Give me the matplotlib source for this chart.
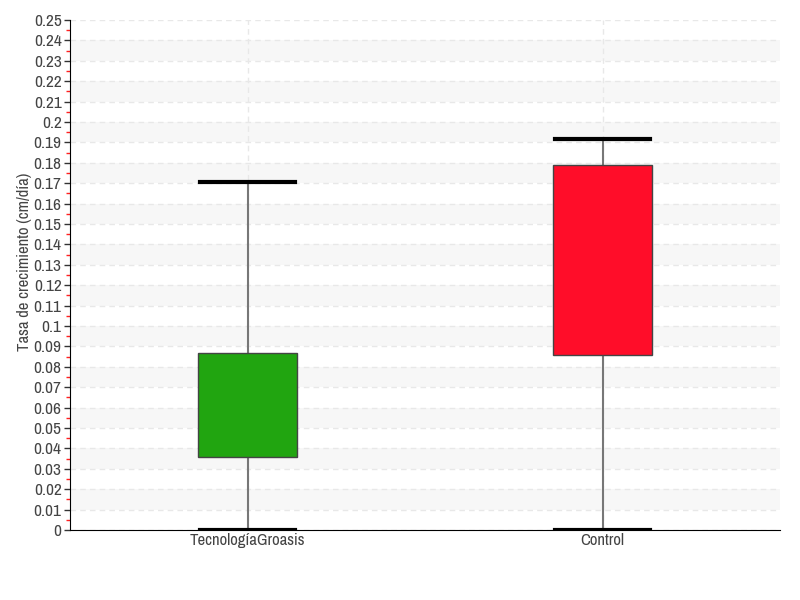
import matplotlib
matplotlib.use("Agg")
import matplotlib.pyplot as plt
from matplotlib.ticker import MultipleLocator, FuncFormatter
from matplotlib import font_manager

categories = ["TecnologíaGroasis", "Control"]
mins = [0.0, 0.0]
q1s = [0.036, 0.0858]
medians = [0.049, 0.1422]
q3s = [0.0868, 0.179]
maxs = [0.1706, 0.1917]
colors = ["#21a510", "#ff0d29"]

narrow = None
for f in font_manager.fontManager.ttflist:
    if "Narrow" in f.name or "Condensed" in f.name:
        narrow = f.name
        break
if narrow:
    plt.rcParams["font.family"] = [narrow, "DejaVu Sans"]
else:
    plt.rcParams["font.family"] = ["DejaVu Sans"]
    plt.rcParams["font.stretch"] = "condensed"

fig = plt.figure(figsize=(8, 6), dpi=100)
ax = fig.add_axes([70/800, 70/600, 710/800, 510/600])

ymax = 0.25
for k in range(1, 25, 2):
    ax.axhspan(k*0.01, (k+1)*0.01, color="#f7f7f7", zorder=0, lw=0)
for k in range(0, 26):
    ax.axhline(k*0.01, color="#e8e8e8", ls=(0, (4, 3)), lw=1, zorder=0.5)
for i in range(len(categories)):
    ax.axvline(i, color="#e8e8e8", ls=(0, (4, 3)), lw=1, zorder=0.5)

stats = []
for i, c in enumerate(categories):
    stats.append(dict(label=c, whislo=mins[i], q1=q1s[i], med=medians[i], q3=q3s[i], whishi=maxs[i]))
bp = ax.bxp(stats, positions=range(len(categories)), widths=0.28, patch_artist=True,
            showfliers=False, manage_ticks=False,
            boxprops=dict(edgecolor="#444444", linewidth=1),
            medianprops=dict(color="#222222", linewidth=1),
            whiskerprops=dict(color="#777777", linewidth=1.5),
            capprops=dict(color="black", linewidth=3), capwidths=0.27)
for patch, col in zip(bp["boxes"], colors):
    patch.set_facecolor(col)
    patch.set_zorder(3)

ax.set_xlim(-0.5, 1.5)
ax.set_ylim(0, ymax)
ax.set_xticks(range(len(categories)))
ax.set_xticklabels(categories)
ax.tick_params(axis="x", length=0, labelsize=12, colors="#444444", pad=2)
ax.yaxis.set_major_locator(MultipleLocator(0.01))
ax.yaxis.set_minor_locator(MultipleLocator(0.005))
ax.yaxis.set_major_formatter(FuncFormatter(lambda v, p: ("%.2f" % v).rstrip("0").rstrip(".") if v != 0 else "0"))
ax.tick_params(axis="y", which="major", length=4, width=1, color="#333333", labelsize=12.5, labelcolor="#444444", pad=2)
ax.tick_params(axis="y", which="minor", length=3, width=1, color="#ff2020")
for s in ["top", "right"]:
    ax.spines[s].set_visible(False)
ax.spines["left"].set_color("black")
ax.spines["bottom"].set_color("black")
ax.set_ylabel("Tasa de crecimiento (cm/día)", fontsize=12, color="#444444")
ax.yaxis.set_label_coords((32 - 70) / 710, (530 - 262) / 510)
fig.savefig("out.png", dpi=100)
